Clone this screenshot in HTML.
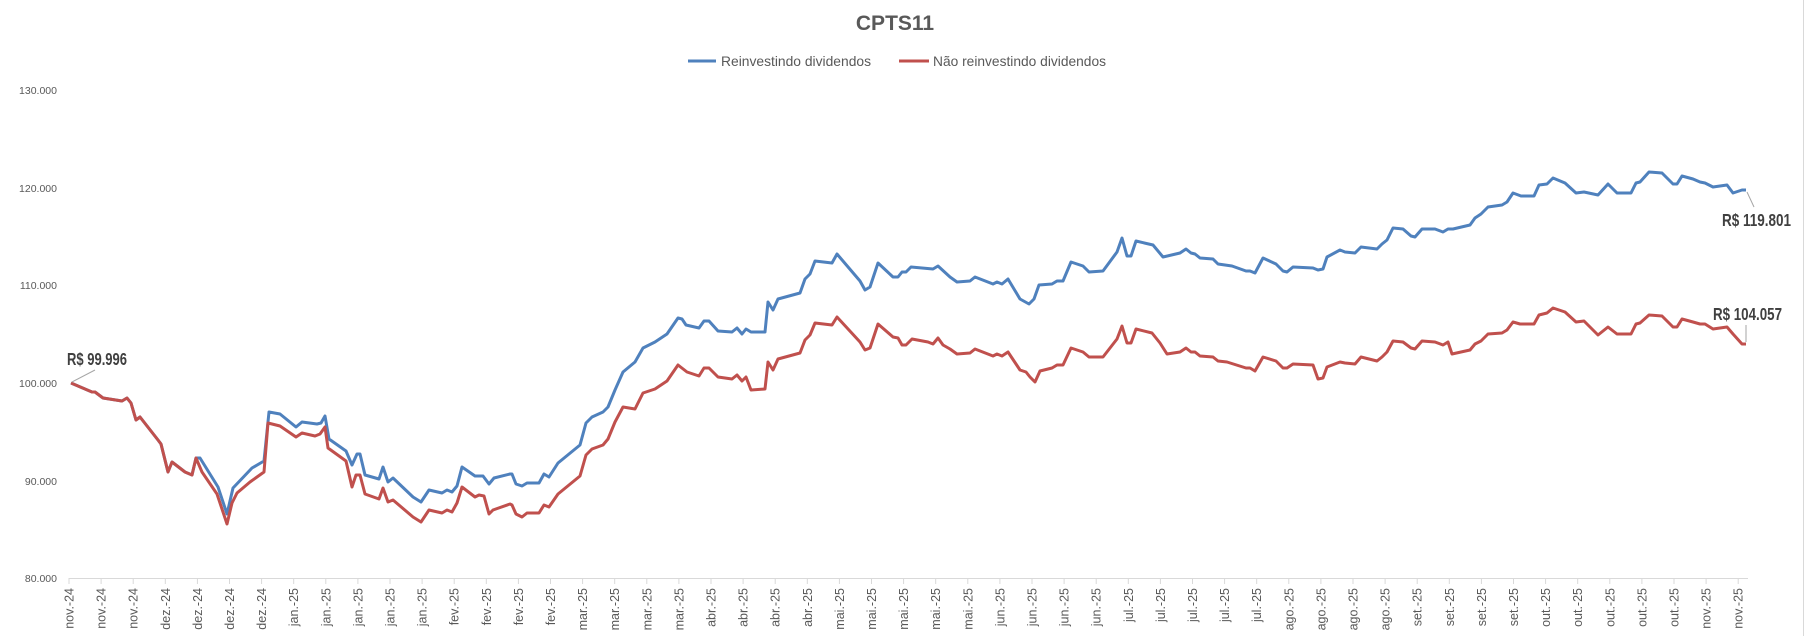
<!DOCTYPE html>
<html><head><meta charset="utf-8"><style>
html,body{margin:0;padding:0;background:#fff;}
svg{display:block;font-family:"Liberation Sans",sans-serif;}
</style></head><body>
<svg width="1814" height="636" viewBox="0 0 1814 636" xmlns="http://www.w3.org/2000/svg">
<rect x="0" y="0" width="1814" height="636" fill="#fff"/>
<line x1="1803.5" y1="0" x2="1803.5" y2="636" stroke="#d9d9d9" stroke-width="1"/>
<text x="895" y="30" text-anchor="middle" font-size="21" font-weight="bold" fill="#595959">CPTS11</text>
<line x1="688" y1="61" x2="716" y2="61" stroke="#4f81bd" stroke-width="3"/>
<text x="721" y="66" font-size="14" fill="#595959" textLength="150" lengthAdjust="spacingAndGlyphs">Reinvestindo dividendos</text>
<line x1="899" y1="61" x2="929" y2="61" stroke="#c0504d" stroke-width="3"/>
<text x="933" y="66" font-size="14" fill="#595959" textLength="173" lengthAdjust="spacingAndGlyphs">Não reinvestindo dividendos</text>
<g font-size="10.5" fill="#595959" text-anchor="end">
<text x="57" y="94">130.000</text>
<text x="57" y="192">120.000</text>
<text x="57" y="289">110.000</text>
<text x="57" y="387">100.000</text>
<text x="57" y="485">90.000</text>
<text x="57" y="582">80.000</text>
</g>
<line x1="69" y1="578.5" x2="1748" y2="578.5" stroke="#d9d9d9" stroke-width="1"/>
<g id="ticks" stroke="#d9d9d9" stroke-width="1"></g>
<g id="xl" font-size="12.5" fill="#595959"></g>
<polyline fill="none" stroke="#4f81bd" stroke-width="3" stroke-linejoin="round" points="71,383 92,392 95,392 103,398 122,401 127,398 131,403 136,420 140,417 158,440 161,444 168,472 172,462 185,472 192,475 196,458 200,458 218,487 227,514 233,488 252,468 264,461 269,412 280,414 296,427 302,422 317,424 321,423 325,416 329,439 346,451 352,465 357,454 360,454 365,475 379,479 383,467 388,482 393,478 413,497 421,502 429,490 442,493 447,490 452,492 457,486 462,467 475,476 483,476 489,484 494,478 510,474 512,474 516,484 522,486 527,483 539,483 544,474 549,477 558,463 580,445 586,423 592,417 603,412 608,407 615,390 623,372 635,362 643,348 655,342 667,334 678,318 682,319 686,325 699,328 704,321 709,321 718,331 732,332 737,328 742,334 746,329 751,332 765,332 768,302 773,310 778,299 800,293 805,279 810,274 815,261 832,263 837,254 860,281 865,290 870,287 878,263 893,277 898,277 902,272 906,272 911,267 933,269 938,266 950,277 957,282 970,281 975,277 993,284 997,282 1002,284 1008,279 1020,299 1029,304 1034,299 1039,285 1052,284 1057,281 1063,281 1071,262 1083,266 1089,272 1103,271 1117,252 1122,238 1127,256 1131,256 1136,241 1153,245 1163,257 1180,253 1186,249 1191,253 1195,254 1200,258 1213,259 1218,264 1232,266 1246,271 1250,271 1255,273 1263,258 1276,264 1283,271 1287,272 1293,267 1313,268 1318,270 1323,269 1327,257 1340,250 1345,252 1355,253 1361,247 1377,249 1382,244 1387,240 1393,228 1403,229 1411,236 1415,237 1422,229 1435,229 1443,232 1448,229 1453,229 1470,225 1475,218 1481,214 1488,207 1502,205 1507,202 1513,193 1521,196 1534,196 1539,185 1547,184 1553,178 1565,183 1576,193 1584,192 1598,195 1608,184 1617,193 1631,193 1636,183 1640,182 1649,172 1662,173 1673,184 1677,184 1682,176 1693,179 1700,182 1705,183 1713,187 1727,185 1733,193 1742,190 1746,190"/>
<polyline fill="none" stroke="#c0504d" stroke-width="3" stroke-linejoin="round" points="71,383 92,392 95,392 103,398 122,401 127,398 131,403 136,420 140,417 158,440 161,444 168,472 172,462 185,472 192,475 196,458 202,472 217,494 220,503 227,524 232,503 237,493 250,482 264,472 268,423 280,426 296,437 302,433 315,436 320,434 325,427 328,448 346,461 352,487 356,475 360,475 365,494 379,499 383,488 388,502 393,500 413,517 421,522 429,510 442,513 447,510 452,512 457,503 462,487 475,497 479,495 484,496 489,514 493,510 510,504 512,505 516,514 522,517 527,513 539,513 544,505 549,507 558,494 580,476 586,455 592,449 603,445 608,439 615,422 623,407 635,409 643,393 655,389 667,381 678,365 687,372 699,376 704,368 709,368 718,377 732,379 737,375 742,381 746,377 751,390 765,389 768,362 773,370 778,359 800,353 805,340 810,335 815,323 832,325 837,317 860,342 865,350 870,348 878,324 893,337 898,338 902,345 906,345 912,339 928,342 933,344 938,338 943,345 950,349 957,354 970,353 975,349 993,356 997,354 1002,356 1008,352 1020,370 1026,372 1030,377 1035,382 1040,371 1052,368 1057,365 1063,365 1071,348 1083,352 1089,357 1103,357 1117,339 1122,326 1127,343 1131,343 1136,329 1152,333 1160,343 1167,354 1180,352 1186,348 1191,352 1195,352 1200,356 1213,357 1218,361 1227,362 1246,368 1250,368 1255,371 1263,357 1276,361 1283,368 1287,368 1293,364 1313,365 1318,379 1323,378 1327,367 1340,362 1345,363 1355,364 1361,357 1377,361 1382,357 1387,352 1393,341 1403,342 1411,348 1415,349 1422,341 1435,342 1443,345 1448,342 1452,354 1470,350 1475,344 1481,341 1488,334 1502,333 1507,330 1513,322 1520,324 1534,324 1539,315 1547,313 1553,308 1565,312 1576,322 1584,321 1598,335 1608,327 1617,334 1631,334 1636,324 1640,323 1649,315 1662,316 1673,327 1677,327 1682,319 1693,322 1700,324 1705,324 1713,329 1727,327 1733,334 1742,344 1746,344"/>
<g stroke="#a6a6a6" stroke-width="1">
<line x1="72" y1="382" x2="95" y2="370"/>
<line x1="1747" y1="192" x2="1754" y2="207"/>
<line x1="1746" y1="342" x2="1746" y2="325"/>
</g>
<g font-size="17.5" font-weight="bold" fill="#404040">
<text x="67" y="365" textLength="60" lengthAdjust="spacingAndGlyphs">R$ 99.996</text>
<text x="1722" y="226" textLength="69" lengthAdjust="spacingAndGlyphs">R$ 119.801</text>
<text x="1713" y="320" textLength="69" lengthAdjust="spacingAndGlyphs">R$ 104.057</text>
</g>
</svg>
<script>
(function(){
var spec=[["nov.-24",3],["dez.-24",4],["jan.-25",5],["fev.-25",4],["mar.-25",4],["abr.-25",4],["mai.-25",5],["jun.-25",4],["jul.-25",5],["ago.-25",4],["set.-25",4],["out.-25",5],["nov.-25",2]];
var m=[];spec.forEach(function(s){for(var k=0;k<s[1];k++)m.push(s[0]);});
var ns="http://www.w3.org/2000/svg",t=document.getElementById("ticks"),g=document.getElementById("xl");
for(var i=0;i<m.length;i++){var x=69+i*32.1;
var l=document.createElementNS(ns,"line");l.setAttribute("x1",x);l.setAttribute("x2",x);l.setAttribute("y1",578);l.setAttribute("y2",584);t.appendChild(l);
var tx=document.createElementNS(ns,"text");tx.setAttribute("transform","translate("+(x+4.5)+",588) rotate(-90)");tx.setAttribute("text-anchor","end");tx.textContent=m[i];g.appendChild(tx);}
})();
</script>
</body></html>
